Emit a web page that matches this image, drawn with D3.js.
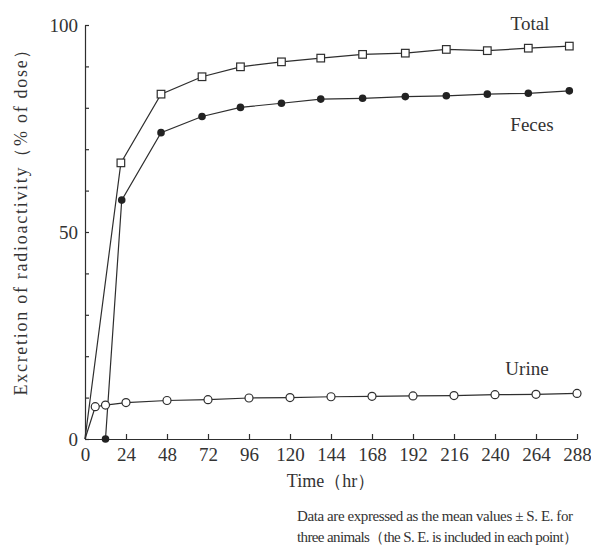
<!DOCTYPE html>
<html>
<head>
<meta charset="utf-8">
<script src="https://cdn.jsdelivr.net/npm/d3@7"></script>
<style>
body { margin: 0; background: #fff; }
text { font-family: "Liberation Serif", "DejaVu Serif", serif; fill: #333; }
</style>
</head>
<body>
<svg id="chart" width="591" height="551"></svg>
<script>
// urine sampled on the tick hours
var urineHours = [0, 6, 12, 24, 48, 72, 96, 120, 144, 168, 192, 216, 240, 264, 288];
var urine = [0, 7.8, 8.2, 8.8, 9.3, 9.5, 9.9, 10.0, 10.2, 10.3, 10.4, 10.5, 10.7, 10.8, 11.0];

// total and feces are plotted a little left of the ticks in the figure
var totalHours = [0, 21, 44.5, 68.5, 91, 115, 138, 162.5, 187.5, 211.5, 235.5, 259.5, 283.5];
var total = [0, 66.7, 83.3, 87.5, 89.9, 91.1, 92.0, 92.9, 93.2, 94.1, 93.8, 94.4, 94.9];
var fecesHours = [12, 21.5, 44.5, 68.5, 91, 115, 138, 162.5, 187.5, 211.5, 235.5, 259.5, 283.5];
var feces = [0, 57.7, 74.0, 77.9, 80.1, 81.1, 82.1, 82.3, 82.7, 82.9, 83.3, 83.5, 84.1];

var xTicks = [0, 24, 48, 72, 96, 120, 144, 168, 192, 216, 240, 264, 288];
var yTicks = [0, 10, 20, 30, 40, 50, 60, 70, 80, 90, 100];
var yLabels = [0, 50, 100];

var ink = "#2e2e2e";
var svg = d3.select("#chart");

var margins = {left: 85, top: 25, right: 14, bottom: 112};
var x = d3.scaleLinear().domain([0, 288]).range([margins.left, 577]);
var y = d3.scaleLinear().domain([0, 100]).range([439, margins.top]);

var makeTranslateString = function(a, b) { return "translate(" + a + "," + b + ")"; };

// axes, ticks pointing inward
var yAxis = d3.axisLeft(y)
    .tickValues(yTicks)
    .tickSize(-4)
    .tickSizeOuter(0)
    .tickPadding(7)
    .tickFormat(function(d) { return yLabels.indexOf(d) >= 0 ? d : ""; });
var gy = svg.append("g").attr("transform", makeTranslateString(x(0), 0)).call(yAxis);

var xAxis = d3.axisBottom(x)
    .tickValues(xTicks)
    .tickSize(-5)
    .tickSizeOuter(0)
    .tickPadding(9);
var gx = svg.append("g").attr("transform", makeTranslateString(0, y(0))).call(xAxis);

[gx, gy].forEach(function(g) {
    g.selectAll("path, line").attr("stroke", ink).attr("stroke-width", 1.2);
    g.selectAll("text").attr("fill", ink)
        .style("font-family", "'Liberation Serif', serif").style("font-size", "19px");
});
gy.selectAll(".tick text").attr("dy", "0.36em");

// lines
var line = d3.line().x(function(d) { return x(d[0]); }).y(function(d) { return y(d[1]); });
var pairs = function(hs, vs) { return hs.map(function(h, i) { return [h, vs[i]]; }); };

var totalPts = [[0, 0]].concat(pairs(totalHours, total).slice(1));
var fecesPts = pairs(fecesHours, feces);
var urinePts = pairs(urineHours, urine);

[totalPts, fecesPts, urinePts].forEach(function(pts) {
    svg.append("path").datum(pts).attr("d", line)
        .attr("fill", "none").attr("stroke", ink).attr("stroke-width", 1.2);
});

// markers
svg.selectAll("rect.total").data(totalPts.slice(1)).enter().append("rect")
    .attr("class", "total")
    .attr("x", function(d) { return x(d[0]) - 3.8; })
    .attr("y", function(d) { return y(d[1]) - 3.8; })
    .attr("width", 7.6).attr("height", 7.6)
    .attr("fill", "#fff").attr("stroke", ink).attr("stroke-width", 1.2);

svg.selectAll("circle.feces").data(fecesPts).enter().append("circle")
    .attr("class", "feces")
    .attr("cx", function(d) { return x(d[0]); })
    .attr("cy", function(d) { return y(d[1]); })
    .attr("r", 3.8).attr("fill", "#222");

svg.selectAll("circle.urine").data(urinePts.slice(1)).enter().append("circle")
    .attr("class", "urine")
    .attr("cx", function(d) { return x(d[0]); })
    .attr("cy", function(d) { return y(d[1]); })
    .attr("r", 4).attr("fill", "#fff").attr("stroke", ink).attr("stroke-width", 1.2);

// series names
svg.append("text").attr("x", 530).attr("y", 30).attr("text-anchor", "middle")
    .style("font-size", "19px").text("Total");
svg.append("text").attr("x", 532).attr("y", 131).attr("text-anchor", "middle")
    .style("font-size", "19px").text("Feces");
svg.append("text").attr("x", 527).attr("y", 375).attr("text-anchor", "middle")
    .style("font-size", "19px").text("Urine");

// axis titles
svg.append("text").attr("x", 331).attr("y", 487).attr("text-anchor", "middle")
    .style("font-size", "18px").text("Time（hr）");

svg.append("text")
    .attr("transform", makeTranslateString(27, 218) + " rotate(-90)")
    .attr("text-anchor", "middle")
    .attr("textLength", 355).attr("lengthAdjust", "spacing")
    .style("font-size", "18px")
    .text("Excretion of radioactivity（% of dose）");

// note
svg.append("text").attr("x", 297).attr("y", 521)
    .attr("textLength", 276).attr("lengthAdjust", "spacing")
    .style("font-size", "15px").text("Data are expressed as the mean values ± S. E.  for");
svg.append("text").attr("x", 297).attr("y", 542)
    .attr("textLength", 281).attr("lengthAdjust", "spacing")
    .style("font-size", "15px").text("three animals（the S. E. is included in each point）");
</script>
</body>
</html>
